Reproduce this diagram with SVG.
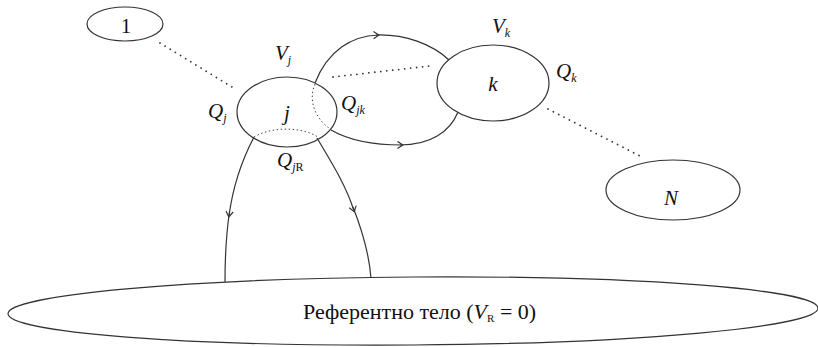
<svg xmlns="http://www.w3.org/2000/svg" width="818" height="347" viewBox="0 0 818 347">
<style>
.node{fill:none;stroke:#333;stroke-width:1.2}
.wire{fill:none;stroke:#333;stroke-width:1.2}
.dots{fill:none;stroke:#333;stroke-width:1.8;stroke-linecap:round;stroke-dasharray:0.01 6}
.fine{fill:none;stroke:#444;stroke-width:1;stroke-dasharray:1.5 2.5}
text{font-family:"Times New Roman","Liberation Serif",Tinos,"Noto Serif","DejaVu Serif",Times,serif;fill:#111}
.it{font-style:italic;font-size:21px}
.up{font-size:21px}
.sub{font-size:12px}
</style>
<defs>
<marker id="chev" viewBox="0 0 10 10" refX="6" refY="5" markerWidth="9" markerHeight="9" markerUnits="userSpaceOnUse" orient="auto">
<path d="M1,1 L7,5 L1,9" fill="none" stroke="#333" stroke-width="1.3"/>
</marker>
</defs>
<g id="node-1">
<ellipse class="node" cx="125" cy="24" rx="38" ry="17"/>
<text class="up" x="126" y="33" text-anchor="middle">1</text>
</g>
<g id="node-j">
<ellipse class="node" cx="287" cy="112" rx="50" ry="35"/>
<text class="it" x="287" y="120" text-anchor="middle">j</text>
<text class="it" x="275" y="60">V<tspan class="sub" dy="4">j</tspan></text>
<text class="it" x="208" y="118">Q<tspan class="sub" dy="4">j</tspan></text>
<text class="it" x="341" y="110">Q<tspan class="sub" dy="4">jk</tspan></text>
<text class="it" x="277" y="167">Q<tspan class="sub" dy="4">j</tspan><tspan class="sub" style="font-style:normal">R</tspan></text>
</g>
<g id="node-k">
<ellipse class="node" cx="493" cy="83" rx="56" ry="38"/>
<text class="it" x="493" y="91" text-anchor="middle">k</text>
<text class="it" x="492" y="33">V<tspan class="sub" dy="4">k</tspan></text>
<text class="it" x="556" y="78">Q<tspan class="sub" dy="4">k</tspan></text>
</g>
<g id="node-N">
<ellipse class="node" cx="673" cy="190" rx="67" ry="30"/>
<text class="it" x="671" y="205" text-anchor="middle">N</text>
</g>
<g id="node-R">
<ellipse class="node" cx="413" cy="311" rx="405" ry="34" transform="rotate(-0.4 413 311)"/>
<text x="303" y="319" style="font-size:22px">Референтно тело (<tspan font-style="italic">V</tspan><tspan style="font-size:11px" dy="3">R</tspan><tspan dy="-3"> = 0)</tspan></text>
</g>
<g id="connectors">
<path class="dots" d="M160,43 L232,87"/>
<path class="dots" d="M333,77 L430,66"/>
<path class="dots" d="M548,109 L642,157"/>
<path class="fine" d="M315,84 C308,100 315,118 329,128"/>
<path class="fine" d="M254,137 C270,127 300,126 318,137"/>
<path class="wire" d="M315,83 C328,50 352,36 378,35" marker-end="url(#chev)"/>
<path class="wire" d="M376,35 C405,34 432,44 449,60"/>
<path class="wire" d="M331,130 C350,141 375,145 402,145" marker-end="url(#chev)"/>
<path class="wire" d="M400,145 C430,145 450,132 458,112"/>
<path class="wire" d="M254,137 C242,160 233,185 229,216" marker-end="url(#chev)"/>
<path class="wire" d="M229.5,212 C226,235 225,258 225,282"/>
<path class="wire" d="M317,138 C330,160 346,185 354,211" marker-end="url(#chev)"/>
<path class="wire" d="M353,207 C362,230 369,252 371,278"/>
</g>
</svg>
